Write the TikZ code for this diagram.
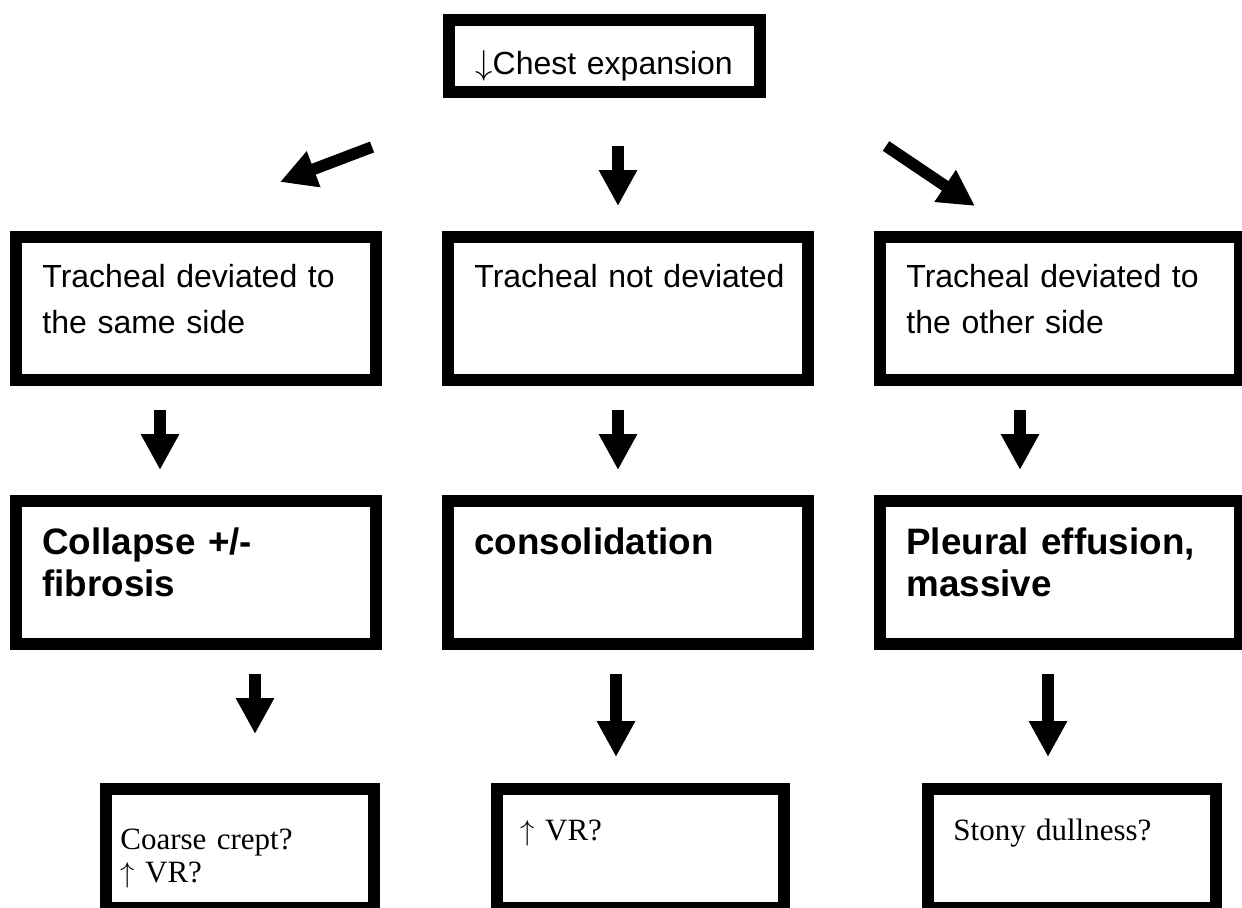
\documentclass[tikz,border=0pt]{standalone}
\usepackage{fontspec}
\newfontfamily\arialfont{Liberation Sans}
\newfontfamily\timesfont{Liberation Serif}
\usetikzlibrary{arrows.meta}

\begin{document}
\begin{tikzpicture}[x=0.5pt,y=-0.5pt,
  box/.style={draw,line width=6pt,inner sep=0pt,minimum width=#1},
  blk/.style={line width=5.8pt,-{Triangle[width=18pt,length=18pt]}},
  sans/.style={anchor=base west,inner sep=0pt,text width=175pt,align=left,font=\arialfont\fontsize{16}{23}\selectfont},
  bold/.style={anchor=base west,inner sep=0pt,text width=175pt,align=left,font=\arialfont\bfseries\fontsize{18.4}{21}\selectfont},
  serif/.style={anchor=base west,inner sep=0pt,text width=130pt,align=left,font=\timesfont\fontsize{15.5}{16.5}\selectfont}]
\path[use as bounding box,fill=white] (0,0) rectangle (1242,907);

\node[box=155.5pt,minimum height=36pt] (top) at (604.5,56) {};
\node[box=180pt,minimum height=71.5pt] (l1) at (196,308.5) {};
\node[box=180pt,minimum height=71.5pt] (m1) at (628,308.5) {};
\node[box=180pt,minimum height=71.5pt] (r1) at (1060,308.5) {};
\node[box=180pt,minimum height=71.5pt] (l2) at (196,572.5) {};
\node[box=180pt,minimum height=71.5pt] (m2) at (628,572.5) {};
\node[box=180pt,minimum height=71.5pt] (r2) at (1060,572.5) {};
\node[box=134pt,minimum height=59.5pt] (l3) at (240,848.5) {};
\node[box=143.5pt,minimum height=59.5pt] (m3) at (640.5,848.5) {};
\node[box=144pt,minimum height=59.5pt] (r3) at (1072,848.5) {};

\node[sans] (t0) at (475,74) {$\downarrow$Chest expansion};
\node[sans] (tl1) at (42,287) {Tracheal deviated to\\the same side};
\node[sans] (tm1) at (474,287) {Tracheal not deviated};
\node[sans] (tr1) at (906,287) {Tracheal deviated to\\the other side};
\node[bold] (tl2) at (42,554) {Collapse +/-\\fibrosis};
\node[bold] (tm2) at (474,554) {consolidation};
\node[bold] (tr2) at (906,554) {Pleural effusion,\\massive};
\node[serif] (tl3) at (120,849) {Coarse crept?\\$\uparrow$ VR?};
\node[serif] (tm3) at (520,840) {$\uparrow$ VR?};
\node[serif] (tr3) at (953,840) {Stony dullness?};

\draw[blk] ([shift={(-71,49)}]top.south west) -- ([shift={(84,-49)}]l1.north);
\draw[blk] ([shift={(13.5,48)}]top.south) -- ([shift={(-10,-25)}]m1.north);
\draw[blk] ([shift={(120,48)}]top.south east) -- ([shift={(-85,-25)}]r1.north);
\draw[blk] ([shift={(-36,24)}]l1.south) -- ([shift={(-36,-25)}]l2.north);
\draw[blk] ([shift={(-10,24)}]m1.south) -- ([shift={(-10,-25)}]m2.north);
\draw[blk] ([shift={(-40,24)}]r1.south) -- ([shift={(-40,-25)}]r2.north);
\draw[blk] ([shift={(59,24)}]l2.south) -- ([shift={(15,-49)}]l3.north);
\draw[blk] ([shift={(-12,24)}]m2.south) -- ([shift={(-24.5,-26)}]m3.north);
\draw[blk] ([shift={(-12,24)}]r2.south) -- ([shift={(-24,-26)}]r3.north);
\end{tikzpicture}
\end{document}
